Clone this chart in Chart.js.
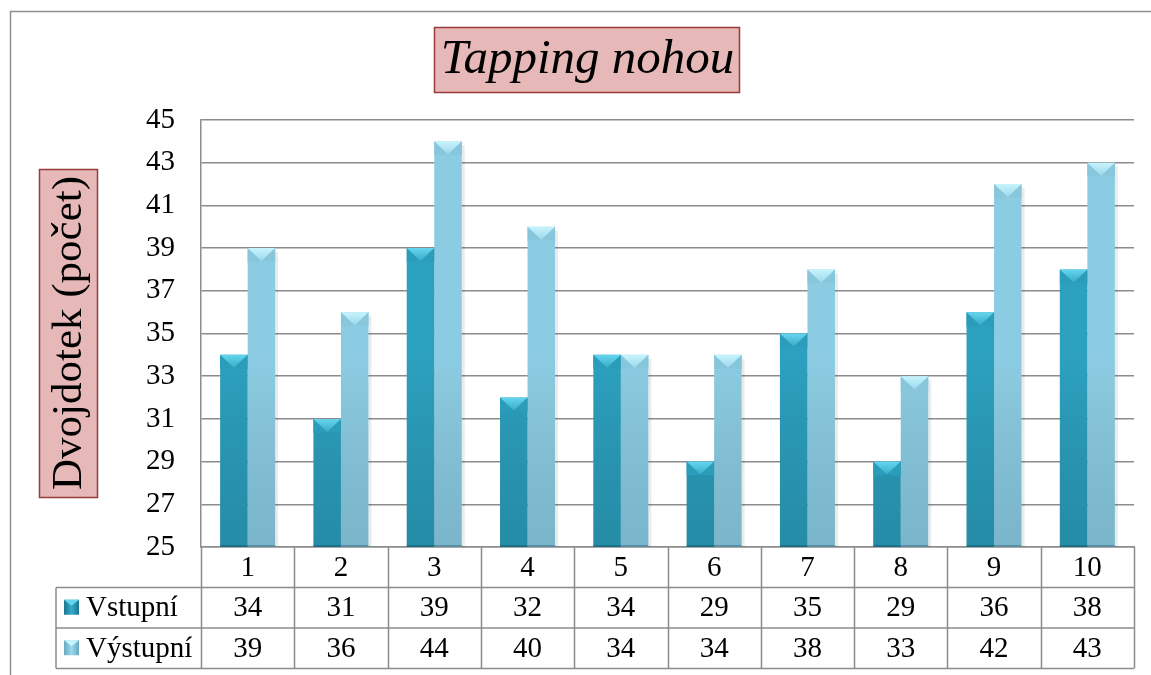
<!DOCTYPE html>
<html>
<head>
<meta charset="utf-8">
<script src="https://cdn.jsdelivr.net/npm/chart.js@4/dist/chart.umd.min.js"></script>
<style>
  html, body { margin: 0; padding: 0; background: #ffffff; }
  #wrap { width: 1151px; height: 675px; position: relative; }
</style>
</head>
<body>
<div id="wrap"><canvas id="c" width="1151" height="675"></canvas></div>
<script>
// Tapping test: double-tap counts per subject, entry vs. exit measurement
const categories = ['1', '2', '3', '4', '5', '6', '7', '8', '9', '10'];
const vstupni = [34, 31, 39, 32, 34, 29, 35, 29, 36, 38];
const vystupni = [39, 36, 44, 40, 34, 34, 38, 33, 42, 43];
const seriesNames = ['Vstupní', 'Výstupní'];
const yTicks = [25, 27, 29, 31, 33, 35, 37, 39, 41, 43, 45];
const chartTitle = 'Tapping nohou';
const yTitle = 'Dvojdotek (počet)';

const SERIF = "'Liberation Serif', 'Times New Roman', serif";
const GRID = '#8c8c8c';
const FONT_PX = 29;

// Colour ramps for the cylindrical bar shading
const palettes = [
  { edge: '#1b7690', mid: '#2ca1bf', light: '#36abc8', cap: '#66d6ee', capSide: '#2b9cb9', foot: 'rgba(10,45,60,0.18)' },
  { edge: '#68a9c0', mid: '#8ccce2', light: '#9cd8ec', cap: '#c8f4fc', capSide: '#88c6dc', foot: 'rgba(20,55,75,0.15)' }
];

function barFill(ctx) {
  const el = ctx.element;
  const p = palettes[ctx.datasetIndex];
  if (!el || !ctx.chart.chartArea) return p.mid;
  const props = el.getProps(['x', 'width'], true);
  const x0 = props.x - props.width / 2, x1 = props.x + props.width / 2;
  if (!isFinite(x0) || !isFinite(x1) || x1 <= x0) return p.mid;
  const g = ctx.chart.ctx.createLinearGradient(x0, 0, x1, 0);
  g.addColorStop(0, p.edge);
  g.addColorStop(0.2, p.mid);
  g.addColorStop(0.45, p.light);
  g.addColorStop(0.8, p.mid);
  g.addColorStop(1, p.edge);
  return g;
}

// Bevelled caps, base shading and a soft right-hand shadow on each bar
const bevelPlugin = {
  id: 'bevel',
  beforeDatasetsDraw(chart) {
    const ctx = chart.ctx;
    const area = chart.chartArea;
    ctx.save();
    chart.data.datasets.forEach((ds, di) => {
      chart.getDatasetMeta(di).data.forEach(bar => {
        const base = Math.min(bar.base, area.bottom);
        const x1 = bar.x + bar.width / 2;
        ctx.fillStyle = 'rgba(0,0,0,0.08)';
        ctx.fillRect(x1, bar.y + 4, 3, base - bar.y - 4);
      });
    });
    ctx.restore();
  },
  afterDatasetsDraw(chart) {
    const ctx = chart.ctx;
    const area = chart.chartArea;
    ctx.save();
    chart.data.datasets.forEach((ds, di) => {
      const p = palettes[di];
      // darkening toward the floor of the plot
      const shade = ctx.createLinearGradient(0, area.top, 0, area.bottom);
      shade.addColorStop(0, 'rgba(0,0,0,0)');
      shade.addColorStop(0.55, 'rgba(0,0,0,0)');
      shade.addColorStop(1, p.foot);
      chart.getDatasetMeta(di).data.forEach(bar => {
        const w = bar.width, x0 = bar.x - w / 2, x1 = bar.x + w / 2;
        const top = bar.y, base = Math.min(bar.base, area.bottom);
        ctx.fillStyle = shade;
        ctx.fillRect(x0, top, w, base - top);
        ctx.fillStyle = 'rgba(0,30,45,0.25)';
        ctx.fillRect(x0, base - 2, w, 2);
        const capH = Math.min(13, (base - top) / 2);
        // side facets of the cap
        ctx.fillStyle = p.capSide;
        ctx.beginPath();
        ctx.moveTo(x0, top); ctx.lineTo(bar.x, top + capH); ctx.lineTo(x0 + 3, top + capH + 1); ctx.lineTo(x0, top + capH + 1);
        ctx.closePath(); ctx.fill();
        ctx.beginPath();
        ctx.moveTo(x1, top); ctx.lineTo(bar.x, top + capH); ctx.lineTo(x1 - 3, top + capH + 1); ctx.lineTo(x1, top + capH + 1);
        ctx.closePath(); ctx.fill();
        // bright top facet
        const g = ctx.createLinearGradient(0, top, 0, top + capH);
        g.addColorStop(0, p.cap);
        g.addColorStop(1, p.light);
        ctx.fillStyle = g;
        ctx.beginPath();
        ctx.moveTo(x0, top); ctx.lineTo(x1, top); ctx.lineTo(bar.x, top + capH);
        ctx.closePath(); ctx.fill();
      });
    });
    ctx.restore();
  }
};

// Frame, titles in their boxes, and the data table under the plot
const tablePlugin = {
  id: 'decor',
  beforeDraw(chart) {
    const ctx = chart.ctx;
    ctx.save();
    ctx.fillStyle = '#ffffff';
    ctx.fillRect(0, 0, chart.width, chart.height);
    ctx.strokeStyle = '#8f8f8f';
    ctx.lineWidth = 1.5;
    ctx.beginPath();
    ctx.moveTo(10.5, chart.height); ctx.lineTo(10.5, 11.5); ctx.lineTo(chart.width, 11.5);
    ctx.stroke();
    ctx.restore();
  },
  afterDraw(chart) {
    const ctx = chart.ctx;
    const area = chart.chartArea;
    const xs = chart.scales.x;
    ctx.save();

    // chart title box
    const bx = 434, by = 27, bw = 305, bh = 65;
    ctx.fillStyle = '#e6b9b8';
    ctx.strokeStyle = '#9b3b39';
    ctx.lineWidth = 1.5;
    ctx.fillRect(bx, by, bw, bh);
    ctx.strokeRect(bx + 0.5, by + 0.5, bw, bh);
    ctx.fillStyle = '#000';
    ctx.font = 'italic 49px ' + SERIF;
    ctx.textAlign = 'center';
    ctx.textBaseline = 'middle';
    ctx.fillText(chartTitle, bx + bw / 2 + 1, by + bh / 2 + 1);

    // y axis title box
    const yx = 39, yy = 169, yw = 58, yh = 328;
    ctx.fillStyle = '#e6b9b8';
    ctx.fillRect(yx, yy, yw, yh);
    ctx.strokeRect(yx + 0.5, yy + 0.5, yw, yh);
    ctx.translate(yx + yw / 2 + 2, yy + yh / 2);
    ctx.rotate(-Math.PI / 2);
    ctx.fillStyle = '#000';
    ctx.font = '43px ' + SERIF;
    ctx.fillText(yTitle, 0, 0);
    ctx.setTransform(1, 0, 0, 1, 0, 0);

    // data table grid
    const rowH = 40.5;
    const y0 = area.bottom, y1 = y0 + rowH, y2 = y1 + rowH, y3 = y2 + rowH;
    const tableLeft = 56;
    const step = (area.right - area.left) / categories.length;
    ctx.strokeStyle = GRID;
    ctx.lineWidth = 1.5;
    ctx.beginPath();
    [y1, y2, y3].forEach(y => { ctx.moveTo(tableLeft, y); ctx.lineTo(area.right, y); });
    for (let k = 0; k <= categories.length; k++) {
      const x = Math.round(area.left + k * step) + 0.5;
      ctx.moveTo(x, y0); ctx.lineTo(x, y3);
    }
    ctx.moveTo(tableLeft, y1); ctx.lineTo(tableLeft, y3);
    ctx.stroke();

    // legend keys + series names + values
    ctx.font = FONT_PX + 'px ' + SERIF;
    ctx.textBaseline = 'middle';
    [vstupni, vystupni].forEach((vals, si) => {
      const cy = (si === 0 ? (y1 + y2) / 2 : (y2 + y3) / 2);
      const p = palettes[si];
      const kx = 64, ky = cy - 8, ks = 15;
      const g = ctx.createLinearGradient(kx, 0, kx + ks, 0);
      g.addColorStop(0, p.edge); g.addColorStop(0.5, p.light); g.addColorStop(1, p.edge);
      ctx.fillStyle = g;
      ctx.fillRect(kx, ky, ks, ks);
      ctx.fillStyle = p.cap;
      ctx.beginPath();
      ctx.moveTo(kx, ky); ctx.lineTo(kx + ks, ky); ctx.lineTo(kx + ks / 2, ky + 6);
      ctx.closePath(); ctx.fill();
      ctx.fillStyle = '#000';
      ctx.textAlign = 'left';
      ctx.fillText(seriesNames[si], 86, cy + 1);
      ctx.textAlign = 'center';
      vals.forEach((v, i) => {
        ctx.fillText(String(v), xs.getPixelForValue(i), cy + 1);
      });
    });
    ctx.restore();
  }
};

new Chart(document.getElementById('c'), {
  type: 'bar',
  data: {
    labels: categories,
    datasets: [
      { label: seriesNames[0], data: vstupni, backgroundColor: barFill, borderWidth: 0 },
      { label: seriesNames[1], data: vystupni, backgroundColor: barFill, borderWidth: 0 }
    ]
  },
  options: {
    responsive: false,
    animation: false,
    devicePixelRatio: 1,
    layout: { padding: { left: 11, right: 17, top: 120, bottom: 0 } },
    datasets: { bar: { categoryPercentage: 0.59, barPercentage: 1.0 } },
    plugins: { legend: { display: false }, title: { display: false }, tooltip: { enabled: false } },
    scales: {
      x: {
        grid: { display: false, drawTicks: false },
        border: { display: true, color: GRID, width: 1.5 },
        ticks: { color: '#000', font: { family: SERIF, size: FONT_PX }, padding: 4, maxRotation: 0 },
        afterFit(scale) { scale.height = 128; }
      },
      y: {
        min: 25, max: 45,
        afterBuildTicks(scale) { scale.ticks = yTicks.map(v => ({ value: v })); },
        grid: { color: GRID, lineWidth: 1.5, drawTicks: false },
        border: { display: true, color: GRID, width: 1.5 },
        ticks: { color: '#000', font: { family: SERIF, size: FONT_PX }, padding: 26 },
        afterFit(scale) { scale.width = 190; }
      }
    }
  },
  plugins: [tablePlugin, bevelPlugin]
});
</script>
</body>
</html>
